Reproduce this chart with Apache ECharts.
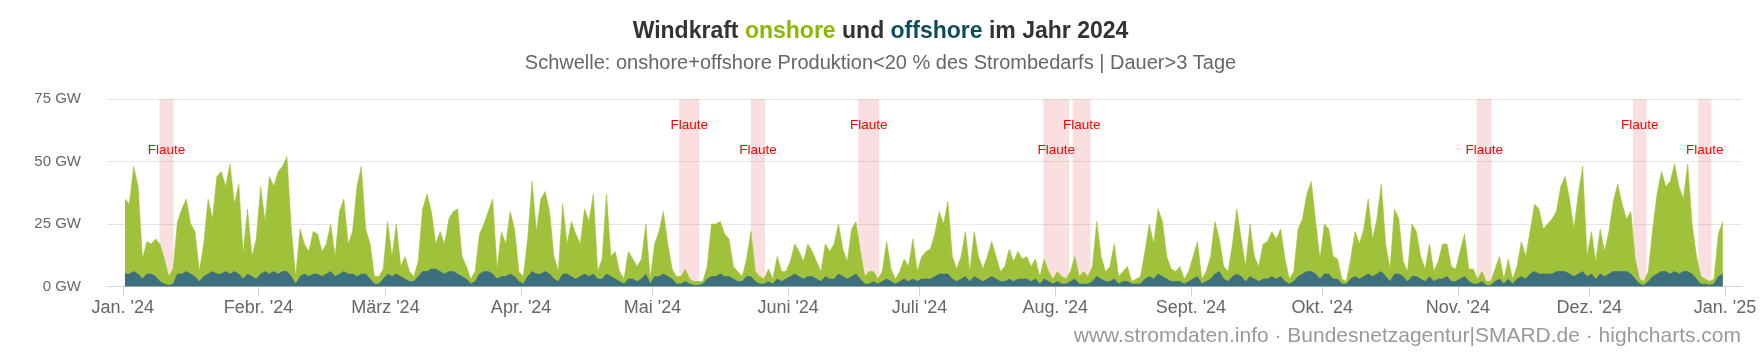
<!DOCTYPE html>
<html lang="de">
<head>
<meta charset="utf-8">
<title>Windkraft onshore und offshore 2024</title>
<script src="https://cdn.jsdelivr.net/npm/echarts@6/dist/echarts.min.js"></script>
<style>
  html, body { margin: 0; padding: 0; background: #fff; }
  #chart { width: 1761px; height: 352px; }
</style>
</head>
<body>
<div id="chart"></div>
<script>
// Tageswerte 2024 in GW (Tag 0 = 1. Januar)
const summe = [
  35,33,48,40,11,18,17,19,17,11, 4,7,26,31,35,25,22,6,17,35,
  27,44,46,40,49,33,41,13,31,12, 19,40,26,44,40,46,48,52,23,4,
  23,17,14,22,21,14,17,25,12,30, 35,17,22,40,48,23,17,4,4,7,
  26,12,25,8,12,6,4,10,31,37, 30,17,22,17,27,30,31,12,8,3,
  6,21,25,30,35,7,22,17,30,23, 6,4,19,42,22,35,38,30,12,6,
  33,17,26,21,17,31,26,37,6,11, 37,12,14,6,3,14,11,8,11,25,
  3,17,22,30,17,7,4,4,7,3, 2,2,2,8,25,25,26,21,19,8,
  6,4,11,22,6,4,3,7,3,12, 6,6,10,17,14,10,17,14,10,6,
  17,14,17,25,15,10,23,26,14,4, 6,6,3,6,18,7,3,6,11,8,
  19,6,12,14,15,21,30,25,34,12, 7,12,22,6,22,12,7,12,18,12,
  6,8,15,10,14,11,12,8,11,4, 11,6,3,6,4,3,6,12,4,6,
  4,8,26,12,6,8,17,4,6,8, 2,3,4,14,25,17,31,26,12,7,
  6,8,3,6,12,18,3,6,12,26, 19,8,6,17,31,19,8,25,12,8,
  17,18,22,19,23,11,3,6,23,27, 37,42,26,11,25,23,12,11,3,2,
  11,22,17,23,35,19,27,41,17,7, 31,27,10,6,25,22,12,7,17,6,
  10,17,17,8,7,14,21,7,7,3, 6,2,2,7,12,3,11,3,8,18,
  12,22,33,31,23,25,27,30,40,44, 35,23,37,48,12,22,10,23,14,22,
  34,41,33,27,30,11,3,2,6,23, 37,46,40,42,49,40,35,49,25,12,
  4,3,2,3,21,26
];
const offshore = [
  5,5,6,5,3,5,5,4,2,1, 0.5,1,5,5,6,5,4,2,4,5,
  6,5,5,6,5,6,5,3,5,4, 3,5,6,5,6,5,6,6,4,1,
  4,5,4,5,5,4,5,6,4,5, 6,5,5,4,5,5,3,1,1,3,
  5,4,5,4,3,2,2,4,6,6, 7,7,6,5,6,6,5,4,3,1,
  2,5,6,6,5,3,4,4,5,4, 2,1,4,6,5,5,6,5,3,2,
  5,5,4,3,4,5,4,5,3,3, 5,4,3,2,1,3,3,2,3,5,
  1,4,4,5,4,3,1,1,2,1, 0.5,0.5,1,3,4,4,5,4,4,3,
  2,2,4,4,2,1,1,2,1,3, 2,3,4,5,4,3,4,4,3,2,
  4,3,3,5,4,3,4,5,3,1, 1,2,1,2,3,2,1,2,3,2,
  3,2,3,3,3,4,5,5,5,3, 2,3,4,2,4,3,2,3,4,3,
  2,2,3,2,3,3,3,2,3,1, 3,2,1,2,1,1,2,3,1,1,
  1,2,4,3,2,2,3,1,2,2, 1,1,1,3,4,3,5,4,3,2,
  2,2,1,2,3,4,1,2,3,5, 6,3,2,4,5,4,2,4,3,2,
  3,3,4,3,4,2,1,2,4,5, 6,6,5,3,5,5,3,3,1,1,
  3,4,3,4,5,4,5,6,4,2, 5,5,4,2,4,4,3,2,4,2,
  3,3,4,2,2,3,4,2,1,1, 2,0.5,0.5,2,3,1,3,1,3,4,
  3,5,6,5,5,5,5,6,6,6, 5,4,5,6,4,5,3,5,4,5,
  6,6,6,6,5,3,1,0.5,2,4, 5,6,6,5,6,5,6,6,5,3,
  1,1,0.5,1,4,5
];

const monatsStart = [0, 31, 60, 91, 121, 152, 182, 213, 244, 274, 305, 335, 366];
const monatsLabel = ["Jan. '24", "Febr. '24", "März '24", "Apr. '24", "Mai '24", "Juni '24",
  "Juli '24", "Aug. '24", "Sept. '24", "Okt. '24", "Nov. '24", "Dez. '24", "Jan. '25"];
const yTicks = [0, 25, 50, 75];

// Flauten (Tag im Jahr), Zeile 1 = obere Beschriftung
const flauteStart = [8.4, 127.1, 143.5, 168.0, 210.3, 217.0, 309.3, 345.0, 359.9];
const flauteEnde = [11.6, 131.7, 146.7, 172.8, 216.2, 221.1, 312.7, 348.1, 362.9];
const flauteZeile = [0, 1, 0, 1, 0, 1, 0, 1, 0];

const FONT = '"Liberation Sans", Arial, Helvetica, sans-serif';

const toPoints = (arr) => arr.map((v, i) => [i + 0.5, v]);

const buildOption = () => {
    const bands = flauteStart.map((s, i) => [
        {
            xAxis: s,
            label: {
                show: true,
                formatter: 'Flaute',
                position: ['50%', flauteZeile[i] ? 26 : 51],
                align: 'center',
                verticalAlign: 'middle',
                color: '#ff0000',
                fontSize: 13.5,
                fontFamily: FONT
            }
        },
        { xAxis: flauteEnde[i] }
    ]);

    return {
        animation: false,
        title: [
            {
                text: '{a|Windkraft }{b|onshore}{a| und }{c|offshore}{a| im Jahr 2024}',
                left: 'center',
                top: 19,
                padding: 0,
                textStyle: {
                    rich: {
                        a: { fontSize: 23, fontWeight: 'bold', color: '#333333', fontFamily: FONT, lineHeight: 26 },
                        b: { fontSize: 23, fontWeight: 'bold', color: '#8cb800', fontFamily: FONT, lineHeight: 26 },
                        c: { fontSize: 23, fontWeight: 'bold', color: '#0e4c5c', fontFamily: FONT, lineHeight: 26 }
                    }
                }
            },
            {
                text: 'Schwelle: onshore+offshore Produktion<20 % des Strombedarfs | Dauer>3 Tage',
                left: 'center',
                top: 52,
                padding: 0,
                textStyle: { fontSize: 20, fontWeight: 'normal', color: '#666666', fontFamily: FONT, lineHeight: 22 }
            },
            {
                text: 'www.stromdaten.info · Bundesnetzagentur|SMARD.de · highcharts.com',
                right: 20,
                top: 325,
                padding: 0,
                textStyle: { fontSize: 21, fontWeight: 'normal', color: '#999999', fontFamily: FONT, lineHeight: 22 }
            }
        ],
        grid: { left: 107, right: 19, top: 99, height: 187.5 },
        xAxis: {
            type: 'value',
            min: -3.6,
            max: 369.9,
            axisLine: { show: true, lineStyle: { color: '#ccd6eb', width: 1 } },
            axisTick: {
                show: true,
                length: 10,
                customValues: monatsStart,
                lineStyle: { color: '#ccd6eb' }
            },
            axisLabel: {
                customValues: monatsStart,
                formatter: (v) => monatsLabel[monatsStart.indexOf(v)] || '',
                color: '#666666',
                fontSize: 18,
                fontFamily: FONT,
                margin: 13
            },
            splitLine: { show: false }
        },
        yAxis: {
            type: 'value',
            min: yTicks[0],
            max: yTicks[yTicks.length - 1],
            interval: 25,
            axisLine: { show: false },
            axisTick: { show: false },
            axisLabel: {
                formatter: '{value} GW',
                color: '#666666',
                fontSize: 15,
                fontFamily: FONT,
                margin: 26
            },
            splitLine: { lineStyle: { color: '#e6e6e6', width: 1 } }
        },
        series: [
            {
                name: 'Flaute',
                type: 'line',
                data: [],
                z: 1,
                silent: true,
                markArea: {
                    silent: true,
                    itemStyle: { color: 'rgba(232, 120, 125, 0.24)' },
                    data: bands
                }
            },
            {
                name: 'onshore',
                type: 'line',
                data: toPoints(summe),
                z: 2,
                showSymbol: false,
                lineStyle: { width: 0.6, color: '#a0c23a' },
                areaStyle: { color: '#a0c23a', opacity: 1 },
                itemStyle: { color: '#a0c23a' }
            },
            {
                name: 'offshore',
                type: 'line',
                data: toPoints(offshore),
                z: 3,
                showSymbol: false,
                lineStyle: { width: 0.6, color: '#3e6f7e' },
                areaStyle: { color: '#3e6f7e', opacity: 1 },
                itemStyle: { color: '#3e6f7e' }
            }
        ]
    };
};

const initChart = () => {
    const myChart = echarts.init(document.getElementById('chart'));
    myChart.setOption(buildOption());
    myChart.resize();
};

window.addEventListener('load', () => {
    initChart();
});
</script>
</body>
</html>
